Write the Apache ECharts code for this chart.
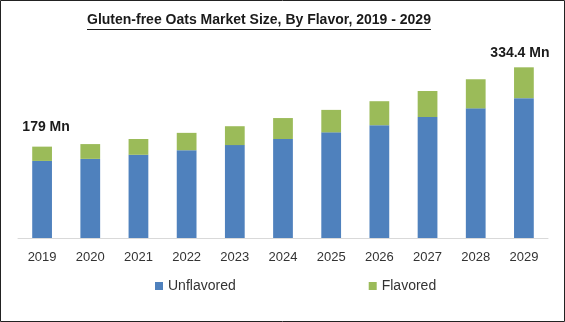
<!DOCTYPE html>
<html>
<head>
<meta charset="utf-8">
<script src="https://cdn.jsdelivr.net/npm/echarts@6/dist/echarts.min.js"></script>
<style>
html,body{margin:0;padding:0;background:#fff;}
#c{width:565px;height:322px;}
</style>
</head>
<body>
<div id="c"></div>
<script>
const years = ['2019','2020','2021','2022','2023','2024','2025','2026','2027','2028','2029'];
const unflavored = [151, 155, 163, 172, 182, 194, 207, 221, 237, 254, 274];
const flavored = [28, 29, 31, 34, 37, 41, 44, 47, 51, 57, 60.4];
const totalLabels = {0: '179 Mn', 10: '334.4 Mn'};
const titleText = 'Gluten-free Oats Market Size, By Flavor, 2019 - 2029';

const titleFont = 'bold 14px "Liberation Sans"';
const cv = document.createElement('canvas').getContext('2d');
cv.font = titleFont;
const tw = cv.measureText(titleText).width;
const titleCenter = 259;
const tx = Math.round(titleCenter - tw / 2);

const chart = echarts.init(document.getElementById('c'));
const flavoredData = flavored.map((v, i) => {
  if (totalLabels[i] === undefined) return v;
  return {
    value: v,
    label: {
      show: true,
      position: 'top',
      distance: i === 0 ? 12 : 7,
      offset: i === 0 ? [4, 0] : [-4, 0],
      formatter: totalLabels[i],
      fontFamily: 'Liberation Sans',
      fontWeight: 'bold',
      fontSize: 14,
      color: '#1a1a1a'
    }
  };
});

chart.setOption({
  animation: false,
  backgroundColor: '#fff',
  graphic: [
    {type: 'rect', shape: {x: 0.5, y: 0.5, width: 564, height: 321}, style: {fill: 'none', stroke: '#222', lineWidth: 1}, silent: true},
    {type: 'text', x: tx, y: 13, style: {text: titleText, font: titleFont, fill: '#1a1a1a'}, silent: true},
    {type: 'line', shape: {x1: tx, y1: 29.5, x2: tx + tw, y2: 29.5}, style: {stroke: '#1a1a1a', lineWidth: 1}, silent: true}
  ],
  legend: {
    left: 150,
    top: 274,
    itemWidth: 8,
    itemHeight: 8,
    itemGap: 133,
    icon: 'rect',
    textStyle: {fontFamily: 'Liberation Sans', fontSize: 14, color: '#333'},
    data: ['Unflavored', 'Flavored']
  },
  grid: {left: 18, right: 17, top: 42, bottom: 84},
  xAxis: {
    type: 'category',
    data: years,
    axisLine: {lineStyle: {color: '#d9d9d9'}},
    axisTick: {show: false},
    axisLabel: {fontFamily: 'Liberation Sans', fontSize: 13, color: '#333', margin: 13}
  },
  yAxis: {type: 'value', min: 0, max: 384, show: false, splitLine: {show: false}},
  series: [
    {name: 'Unflavored', type: 'bar', stack: 't', data: unflavored, barWidth: '41%', itemStyle: {color: '#4f81bd'}},
    {name: 'Flavored', type: 'bar', stack: 't', data: flavoredData, barWidth: '41%', itemStyle: {color: '#9bbb59'}}
  ]
});
</script>
</body>
</html>
